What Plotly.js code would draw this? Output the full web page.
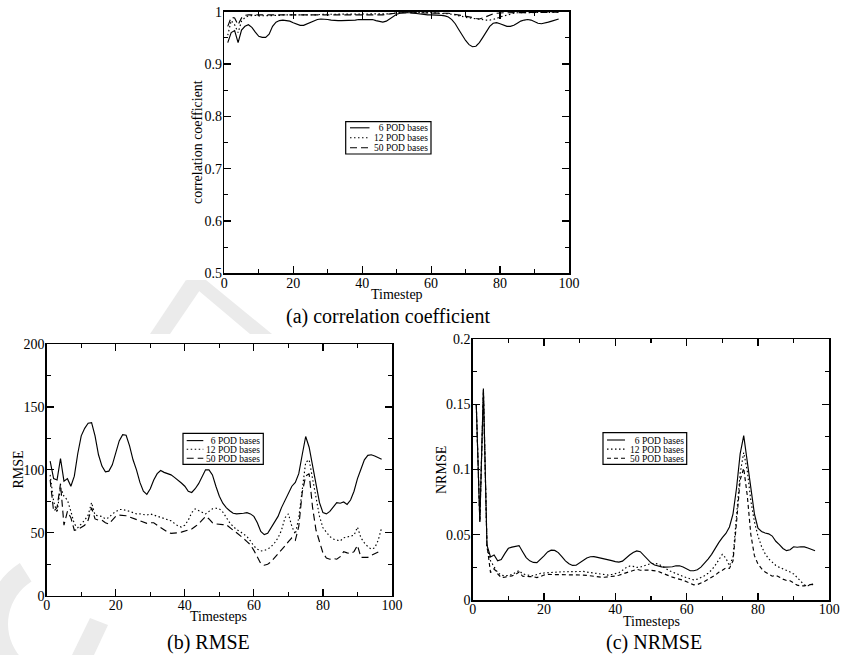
<!DOCTYPE html>
<html>
<head>
<meta charset="utf-8">
<script src="https://cdn.plot.ly/plotly-3.0.1.min.js"></script>
<style>
  html, body { margin: 0; padding: 0; background: #ffffff; }
  #chart { width: 842px; height: 655px; }
</style>
</head>
<body>
<div id="chart"></div>
<script>
// Series labels shared by the three panels
const seriesNames = ['6 POD bases', '12 POD bases', '50 POD bases'];

// (a) correlation coefficient, timesteps 1..97
const corr6 = [
  0.941, 0.960, 0.964, 0.941, 0.965, 0.972, 0.975, 0.970, 0.961, 0.953,
  0.951, 0.951, 0.957, 0.972, 0.980, 0.983, 0.984, 0.983, 0.982, 0.979,
  0.976, 0.974, 0.974, 0.977, 0.980, 0.983, 0.985, 0.986, 0.986, 0.985,
  0.984, 0.983, 0.983, 0.983, 0.983, 0.984, 0.984, 0.984, 0.985, 0.985,
  0.986, 0.986, 0.985, 0.983, 0.981, 0.980, 0.982, 0.986, 0.991, 0.995,
  0.997, 0.998, 0.998, 0.998, 0.997, 0.996, 0.995, 0.995, 0.994, 0.994,
  0.994, 0.994, 0.993, 0.992, 0.990, 0.985, 0.977, 0.966, 0.955, 0.945,
  0.937, 0.933, 0.934, 0.941, 0.951, 0.962, 0.972, 0.978, 0.979, 0.977,
  0.974, 0.972, 0.972, 0.974, 0.978, 0.982, 0.984, 0.985, 0.984, 0.981,
  0.978, 0.977, 0.978, 0.980, 0.982, 0.984, 0.986
];
const corr12 = [
  0.955, 0.983, 0.975, 0.960, 0.982, 0.989, 0.992, 0.993, 0.993, 0.992,
  0.992, 0.992, 0.993, 0.993, 0.993, 0.993, 0.994, 0.994, 0.994, 0.994,
  0.994, 0.993, 0.994, 0.994, 0.994, 0.994, 0.994, 0.995, 0.995, 0.995,
  0.995, 0.995, 0.995, 0.995, 0.995, 0.995, 0.995, 0.995, 0.995, 0.995,
  0.995, 0.995, 0.995, 0.995, 0.995, 0.995, 0.995, 0.996, 0.997, 0.998,
  0.998, 0.999, 0.999, 0.999, 0.999, 0.998, 0.998, 0.998, 0.998, 0.998,
  0.998, 0.997, 0.997, 0.997, 0.996, 0.995, 0.994, 0.993, 0.991, 0.989,
  0.988, 0.987, 0.986, 0.985, 0.984, 0.984, 0.984, 0.985, 0.987, 0.990,
  0.992, 0.994, 0.996, 0.997, 0.998, 0.998, 0.998, 0.998, 0.998, 0.998,
  0.998, 0.998, 0.998, 0.999, 0.999, 0.999, 0.999
];
const corr50 = [
  0.972, 0.989, 0.988, 0.975, 0.988, 0.993, 0.994, 0.994, 0.994, 0.993,
  0.993, 0.993, 0.993, 0.993, 0.994, 0.994, 0.994, 0.994, 0.994, 0.994,
  0.994, 0.994, 0.994, 0.994, 0.994, 0.994, 0.994, 0.994, 0.994, 0.994,
  0.994, 0.994, 0.994, 0.994, 0.994, 0.994, 0.994, 0.994, 0.994, 0.994,
  0.994, 0.994, 0.994, 0.994, 0.994, 0.994, 0.995, 0.996, 0.997, 0.998,
  0.998, 0.998, 0.998, 0.998, 0.998, 0.998, 0.998, 0.998, 0.998, 0.998,
  0.998, 0.998, 0.998, 0.997, 0.997, 0.996, 0.995, 0.994, 0.993, 0.991,
  0.990, 0.989, 0.987, 0.986, 0.988, 0.991, 0.994, 0.996, 0.997, 0.998,
  0.998, 0.998, 0.998, 0.998, 0.999, 0.999, 0.999, 0.999, 0.999, 0.999,
  0.999, 0.999, 0.999, 0.999, 0.999, 0.999, 0.999
];

// (b) RMSE, timesteps 1..97
const rmse6 = [
  107, 93, 92, 109, 91, 93, 87, 95, 113, 127,
  133, 137, 137.5, 127, 112, 103, 98.5, 99, 104, 114,
  123, 128, 127.5, 119, 108, 100, 90, 83, 80.5, 85,
  92, 97, 99.5, 98, 97, 96, 94, 92, 89.5, 87,
  83, 82, 85, 89, 94, 100, 100, 96, 87, 79,
  73.5, 70, 67.5, 65.5, 65, 65, 65.5, 66, 65, 63,
  58, 51, 48.5, 49.5, 54, 59, 63, 70, 76, 82,
  87, 90, 97, 112, 126.5, 118, 103, 89, 74, 66,
  65, 67, 71, 74, 73.5, 74.5, 72.5, 76, 83, 93,
  100.5, 108, 111.5, 112, 111, 110, 108.5
];
const rmse12 = [
  96, 75, 66, 86, 79, 76, 67, 57, 54, 57,
  60, 64, 74, 64, 63.5, 63, 61, 62, 65, 67,
  68.5, 68.5, 68, 67, 66, 65, 65, 64.5, 64, 65,
  64, 63, 62.5, 61.5, 60.5, 59.5, 57.5, 55.5, 54.5, 56,
  60, 66, 69, 67.5, 66, 65, 67, 69, 69.5, 69,
  66.5, 62, 58, 55, 52.5, 51, 49, 47, 43.5, 39.5,
  37, 35.5, 36, 37, 39, 42, 46, 52, 62, 65,
  55, 49, 62, 85, 106, 108, 92, 77, 63, 54,
  50, 47, 45, 44, 43.5, 46, 46.5, 47, 48, 54.5,
  46, 42, 39, 37, 38, 44, 54
];
const rmse50 = [
  92, 67, 70, 89, 56, 67, 62, 52, 52.5, 54,
  56, 60, 70, 61, 60, 60, 58, 57, 60, 63,
  64, 64, 63.5, 62.5, 61.5, 60.5, 59.5, 58.5, 57.5, 58,
  58, 56, 54, 52, 50.5, 49.5, 49.5, 50, 50.5, 51.5,
  52, 53, 55, 57, 60, 63, 61, 58, 57, 56.5,
  56.5, 56.5, 54, 52, 50, 48, 45.5, 43, 40.5, 36,
  31, 25.5, 24.2, 25, 27, 30, 33, 36, 39.5, 43,
  46, 44, 55, 82, 95, 97, 70, 52, 42, 34,
  30, 29, 29.5, 29, 31, 35, 34, 33.5, 35, 40,
  30.5, 30.5, 30.5, 32, 33.5, 35, 36
];

// (c) NRMSE, timesteps 1..96
const nrmse6 = [
  0.150, 0.060, 0.162, 0.042, 0.033, 0.0345, 0.030, 0.031, 0.0355, 0.0396,
  0.0405, 0.041, 0.0417, 0.037, 0.0325, 0.030, 0.0288, 0.0287, 0.031, 0.0338,
  0.0368, 0.0382, 0.0380, 0.0363, 0.0332, 0.0300, 0.0278, 0.0265, 0.0266, 0.0284,
  0.0304, 0.0322, 0.0331, 0.0332, 0.0327, 0.0322, 0.0317, 0.0312, 0.0302, 0.0294,
  0.0290, 0.0298, 0.0323, 0.0345, 0.0364, 0.0376, 0.0370, 0.0340, 0.0312, 0.0285,
  0.0268, 0.0258, 0.0254, 0.0252, 0.0251, 0.0255, 0.0262, 0.0262, 0.0253, 0.0236,
  0.0224, 0.0224, 0.0232, 0.0252, 0.0280, 0.0314, 0.0350, 0.0398, 0.0440, 0.0478,
  0.0510, 0.0560, 0.0660, 0.0860, 0.1120, 0.1260, 0.1060, 0.0820, 0.0660, 0.0550,
  0.0525, 0.0513, 0.0507, 0.0490, 0.0450, 0.0425, 0.0395, 0.0378, 0.0385, 0.0408,
  0.0404, 0.0408, 0.0407, 0.0399, 0.0388, 0.0378
];
const nrmse12 = [
  0.150, 0.060, 0.161, 0.040, 0.030, 0.026, 0.021, 0.019, 0.0186, 0.0188,
  0.0195, 0.021, 0.0225, 0.0200, 0.0192, 0.0188, 0.0186, 0.0195, 0.0204, 0.0207,
  0.0210, 0.0212, 0.0213, 0.0214, 0.0216, 0.0217, 0.0219, 0.0220, 0.0221, 0.0222,
  0.0219, 0.0214, 0.0210, 0.0204, 0.0198, 0.0194, 0.0192, 0.0191, 0.0195, 0.0201,
  0.0209, 0.0228, 0.0248, 0.0260, 0.0258, 0.0250, 0.0252, 0.0262, 0.0272, 0.0280,
  0.0280, 0.0276, 0.0262, 0.0242, 0.0226, 0.0214, 0.0205, 0.0192, 0.0180, 0.0170,
  0.0160, 0.0154, 0.0160, 0.0170, 0.0185, 0.0205, 0.0230, 0.0265, 0.0310, 0.0350,
  0.0320, 0.0262, 0.0330, 0.0650, 0.0970, 0.1130, 0.0990, 0.0760, 0.0600, 0.0490,
  0.0410, 0.0355, 0.0315, 0.0290, 0.0265, 0.0250, 0.0240, 0.0230, 0.0215, 0.0200,
  0.0170, 0.0138, 0.0115, 0.0110, 0.0115, 0.0128
];
const nrmse50 = [
  0.150, 0.060, 0.160, 0.042, 0.021, 0.024, 0.020, 0.0172, 0.0175, 0.0179,
  0.0185, 0.0195, 0.0215, 0.0182, 0.0178, 0.0179, 0.0179, 0.0172, 0.0180, 0.0192,
  0.0196, 0.0196, 0.0196, 0.0196, 0.0196, 0.0196, 0.0196, 0.0196, 0.0195, 0.0193,
  0.0191, 0.0189, 0.0185, 0.0180, 0.0177, 0.0175, 0.0174, 0.0176, 0.0180, 0.0184,
  0.0190, 0.0200, 0.0210, 0.0220, 0.0229, 0.0235, 0.0228, 0.0226, 0.0229, 0.0228,
  0.0226, 0.0220, 0.0208, 0.0195, 0.0185, 0.0175, 0.0166, 0.0160, 0.0152, 0.0140,
  0.0128, 0.0116, 0.0118, 0.0128, 0.0142, 0.0158, 0.0172, 0.0190, 0.0212, 0.0232,
  0.0245, 0.0242, 0.0300, 0.0600, 0.0920, 0.1010, 0.0800, 0.0500, 0.0340, 0.0275,
  0.0240, 0.0215, 0.0200, 0.0182, 0.0190, 0.0172, 0.0160, 0.0150, 0.0148, 0.0130,
  0.0114, 0.0108, 0.0108, 0.0114, 0.0120, 0.0124
];

// ---------------------------------------------------------------------------
const W = 842, H = 655;
const FONT = '"Liberation Serif", "Times New Roman", "DejaVu Serif", serif';
const px = x => x / W;          // pixel column -> paper x
const py = y => 1 - y / H;      // pixel row -> paper y

const styles = {
  ab: [{ dash: 'solid' }, { dash: '1.5px,2.5px' }, { dash: '7px,4px' }],
  c:  [{ dash: 'solid' }, { dash: '1.5px,2.5px' }, { dash: '4px,3px' }]
};

const steps = arr => arr.map((_, i) => i + 1);

function series(values, xa, ya, style, name) {
  return {
    type: 'scatter', mode: 'lines', x: steps(values), y: values,
    xaxis: xa, yaxis: ya, name: name, showlegend: false,
    line: { color: '#000', width: 1.15, dash: style.dash },
    hoverinfo: 'skip'
  };
}

const traces = [
  series(corr6, 'x', 'y', styles.ab[0], seriesNames[0]),
  series(corr12, 'x', 'y', styles.ab[1], seriesNames[1]),
  series(corr50, 'x', 'y', styles.ab[2], seriesNames[2]),
  series(rmse6, 'x2', 'y2', styles.ab[0], seriesNames[0]),
  series(rmse12, 'x2', 'y2', styles.ab[1], seriesNames[1]),
  series(rmse50, 'x2', 'y2', styles.ab[2], seriesNames[2]),
  series(nrmse6, 'x3', 'y3', styles.c[0], seriesNames[0]),
  series(nrmse12, 'x3', 'y3', styles.c[1], seriesNames[1]),
  series(nrmse50, 'x3', 'y3', styles.c[2], seriesNames[2])
];

function axis(domain, range, dtick, minorDtick, anchor, standoff) {
  return {
    domain: domain, range: range, anchor: anchor,
    dtick: dtick, tick0: range[0],
    showgrid: false, zeroline: false,
    showline: true, linecolor: '#000', linewidth: 1.5, mirror: 'ticks',
    ticks: 'inside', ticklen: 7, tickwidth: 1.2, tickcolor: '#000',
    ticklabelstandoff: standoff,
    minor: { dtick: minorDtick, tick0: range[0], ticks: 'inside', ticklen: 4,
             tickwidth: 1.2, tickcolor: '#000', showgrid: false },
    tickfont: { family: FONT, size: 14, color: '#000' },
    fixedrange: true
  };
}

// plot frames in pixels: [left, right, top, bottom]
const frameA = [224.3, 569, 11.7, 273.3];
const frameB = [46.7, 392, 344, 595.7];
const frameC = [472.7, 829.3, 339, 600];

const xd = f => [px(f[0]), px(f[1])];
const yd = f => [py(f[3]), py(f[2])];

const layout = {
  width: W, height: H,
  margin: { l: 0, r: 0, t: 0, b: 0 },
  paper_bgcolor: '#fff', plot_bgcolor: '#fff',
  showlegend: false,
  font: { family: FONT, color: '#000' },
  xaxis:  axis(xd(frameA), [0, 100], 20, 10, 'y', -4),
  yaxis:  axis(yd(frameA), [0.5, 1], 0.1, 0.05, 'x', -2),
  xaxis2: axis(xd(frameB), [0, 100], 20, 10, 'y2', -4),
  yaxis2: axis(yd(frameB), [0, 200], 50, 25, 'x2', -2),
  xaxis3: axis(xd(frameC), [0, 100], 20, 10, 'y3', -4),
  yaxis3: axis(yd(frameC), [0, 0.2], 0.05, 0.025, 'x3', -2),
  shapes: [],
  annotations: []
};

// faint background stamp strokes between the panels
function polyPath(points) {
  return points.map((p, i) => (i ? 'L' : 'M') + px(p[0]).toFixed(5) + ',' + py(p[1]).toFixed(5)).join(' ') + ' Z';
}
function ring(cx, cy, rIn, rOut, a0, a1) {
  const pts = [];
  const n = 24;
  for (let k = 0; k <= n; k++) {
    const a = (a0 + (a1 - a0) * k / n) * Math.PI / 180;
    pts.push([cx + rOut * Math.cos(a), cy - rOut * Math.sin(a)]);
  }
  for (let k = n; k >= 0; k--) {
    const a = (a0 + (a1 - a0) * k / n) * Math.PI / 180;
    pts.push([cx + rIn * Math.cos(a), cy - rIn * Math.sin(a)]);
  }
  return pts;
}
const stampColor = '#ebebeb';
[
  ring(58, 624, 50, 72, 122, 262),
  [[90, 618], [108, 625], [94, 655], [72, 655]],
  [[186, 280], [206, 280], [272, 334], [250, 334]],
  [[186, 280], [200, 290], [170, 334], [150, 334]]
].forEach(pts => layout.shapes.push({
  type: 'path', xref: 'paper', yref: 'paper', path: polyPath(pts),
  fillcolor: stampColor, line: { width: 0 }, layer: 'below'
}));

function text(str, x, y, size, opts) {
  return Object.assign({
    text: str, x: px(x), y: py(y), xref: 'paper', yref: 'paper',
    showarrow: false, xanchor: 'center', yanchor: 'middle',
    font: { family: FONT, size: size, color: '#000' }
  }, opts || {});
}

// axis titles and panel captions
layout.annotations.push(
  text('Timestep', 397, 294.5, 14),
  text('correlation coefficient', 197.5, 142.5, 14, { textangle: -90 }),
  text('(a) correlation coefficient', 388, 316, 20),
  text('Timesteps', 219, 616, 14),
  text('RMSE', 17.5, 470, 14, { textangle: -90 }),
  text('(b) RMSE', 208, 642, 20),
  text('Timesteps', 651, 621, 14),
  text('NRMSE', 441, 470, 14, { textangle: -90 }),
  text('(c) NRMSE', 654, 642, 20)
);

// boxed key inside each panel: [left, right, top, bottom], sample span, row centres
function key(box, sample, rows, textX, lineStyles) {
  layout.shapes.push({
    type: 'rect', xref: 'paper', yref: 'paper',
    x0: px(box[0]), x1: px(box[1]), y0: py(box[3]), y1: py(box[2]),
    line: { color: '#000', width: 1.2 }, fillcolor: '#fff', layer: 'above'
  });
  seriesNames.forEach((name, i) => {
    layout.shapes.push({
      type: 'line', xref: 'paper', yref: 'paper',
      x0: px(sample[0]), x1: px(sample[1]), y0: py(rows[i]), y1: py(rows[i]),
      line: { color: '#000', width: 1.1, dash: lineStyles[i].dash }
    });
    const label = name.length < 12 ? '\u00a0\u00a0' + name : name;
    layout.annotations.push(text(label, textX, rows[i], 9.5,
      { xanchor: 'left', height: 9, borderpad: 0 }));
  });
}

key([345.7, 431, 121.7, 154], [350, 369.5], [127.8, 137.8, 147.8], 372.5, styles.ab);
key([183, 263.3, 433.3, 464.3], [186.7, 203.3], [440.6, 449.3, 458.2], 205, styles.ab);
key([603, 686.7, 432.7, 464.3], [607, 625], [440, 449.1, 458.2], 628.5, styles.c);

Plotly.newPlot('chart', traces, layout, { staticPlot: true, displayModeBar: false });
</script>
</body>
</html>
